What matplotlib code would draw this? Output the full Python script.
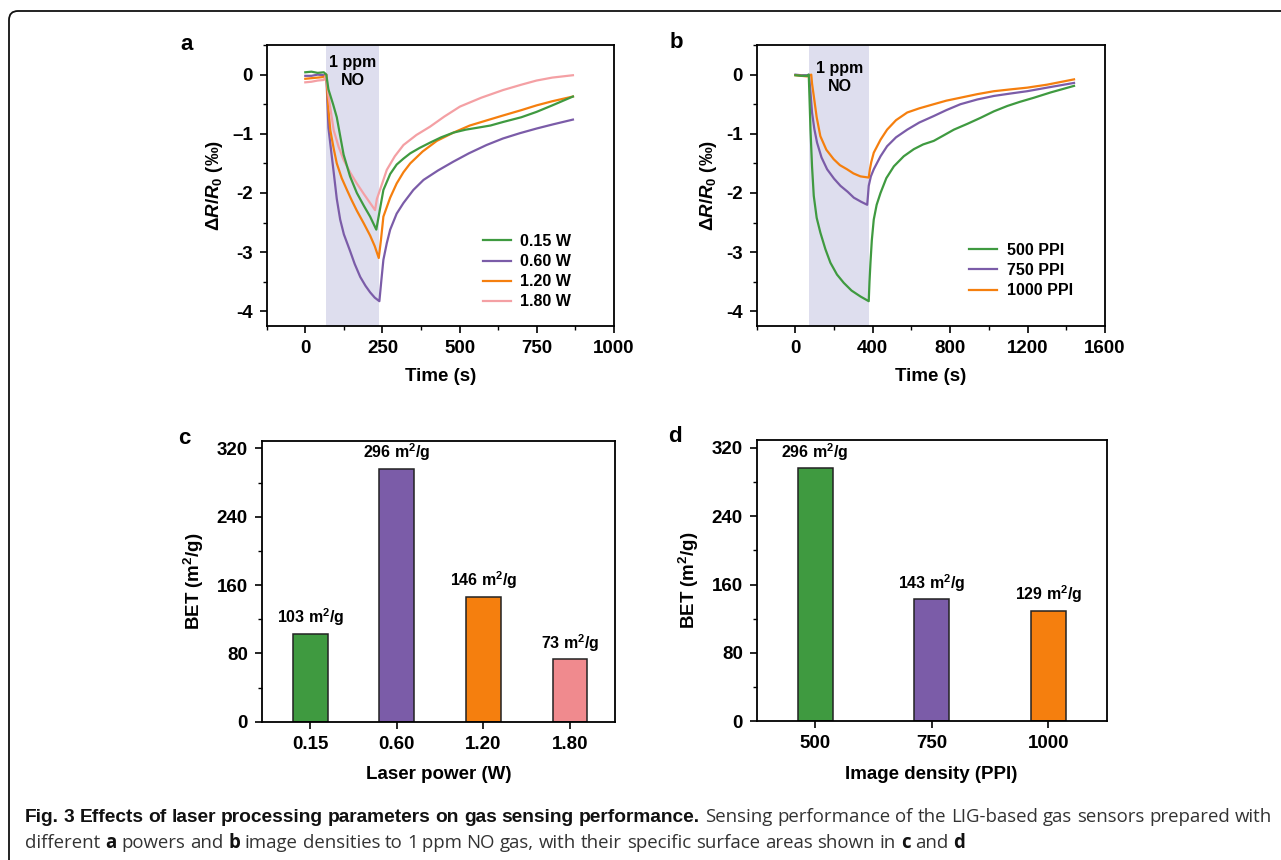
import numpy as np
import matplotlib
matplotlib.use('Agg')
import matplotlib.pyplot as plt
from matplotlib.patches import FancyBboxPatch
from matplotlib.transforms import IdentityTransform
from matplotlib.ticker import MultipleLocator, FixedLocator

plt.rcParams['font.family'] = ['Liberation Sans', 'DejaVu Sans']
plt.rcParams['font.weight'] = 'bold'
plt.rcParams['mathtext.fontset'] = 'custom'
plt.rcParams['mathtext.rm'] = 'Liberation Sans:bold'
plt.rcParams['mathtext.it'] = 'Liberation Sans:bold:italic'
plt.rcParams['mathtext.bf'] = 'Liberation Sans:bold'

GREEN = '#3f9a40'
PURPLE = '#7b5ca8'
ORANGE = '#f57f0e'
PINK = '#f4a0a4'
PINK_BAR = '#f08a8e'
SHADE = '#dedeee'

# panel a: response vs time for laser powers
t_a_015 = [0, 20, 40, 60, 68, 75, 90, 102, 124, 145, 167, 190, 210, 230, 253, 275, 296, 318, 340, 370, 404, 440, 480, 520, 555, 600, 641, 700, 749, 800, 867]
v_a_015 = [0.04, 0.05, 0.03, 0.04, 0.0, -0.25, -0.5, -0.72, -1.35, -1.72, -2.0, -2.22, -2.4, -2.62, -1.95, -1.68, -1.52, -1.42, -1.33, -1.24, -1.15, -1.06, -0.98, -0.93, -0.9, -0.86, -0.8, -0.72, -0.63, -0.52, -0.37]
t_a_060 = [0, 20, 40, 60, 68, 75, 84, 92, 102, 113, 125, 145, 160, 178, 195, 210, 225, 240, 246, 253, 264, 275, 296, 318, 350, 383, 430, 480, 530, 587, 640, 695, 750, 803, 867]
v_a_060 = [-0.02, -0.02, 0.0, -0.01, 0.0, -0.9, -1.3, -1.65, -2.1, -2.45, -2.7, -2.98, -3.2, -3.42, -3.57, -3.68, -3.77, -3.83, -3.5, -3.13, -2.85, -2.62, -2.35, -2.17, -1.95, -1.78, -1.62, -1.47, -1.33, -1.19, -1.08, -0.99, -0.91, -0.84, -0.76]
t_a_120 = [0, 20, 40, 60, 68, 75, 81, 92, 102, 118, 135, 150, 167, 190, 210, 225, 238, 245, 253, 275, 296, 318, 340, 380, 426, 480, 533, 590, 641, 700, 749, 800, 867]
v_a_120 = [-0.07, -0.06, -0.05, -0.04, 0.0, -0.6, -0.94, -1.25, -1.5, -1.75, -1.95, -2.12, -2.3, -2.52, -2.72, -2.9, -3.1, -2.8, -2.4, -2.08, -1.84, -1.65, -1.5, -1.3, -1.12, -0.98, -0.86, -0.77, -0.69, -0.6, -0.52, -0.45, -0.37]
t_a_180 = [0, 20, 40, 60, 68, 75, 92, 108, 124, 145, 167, 190, 210, 226, 232, 240, 264, 290, 318, 360, 404, 450, 501, 570, 641, 700, 749, 800, 867]
v_a_180 = [-0.13, -0.12, -0.1, -0.09, 0.0, -0.35, -0.94, -1.22, -1.44, -1.65, -1.84, -2.02, -2.17, -2.29, -2.1, -1.98, -1.61, -1.38, -1.19, -1.02, -0.88, -0.71, -0.54, -0.39, -0.26, -0.17, -0.1, -0.05, -0.01]

# panel b: response vs time for image densities
t_b_500 = [0, 30, 60, 69, 73, 78, 86, 95, 110, 129, 155, 181, 215, 250, 290, 336, 379, 383, 388, 395, 405, 420, 440, 470, 509, 560, 612, 660, 715, 770, 819, 890, 957, 1026, 1095, 1160, 1233, 1320, 1440]
v_b_500 = [-0.01, -0.02, -0.02, 0.0, -0.4, -0.93, -1.55, -2.05, -2.42, -2.67, -2.95, -3.18, -3.38, -3.52, -3.65, -3.75, -3.83, -3.5, -3.18, -2.8, -2.45, -2.2, -2.0, -1.75, -1.55, -1.38, -1.26, -1.18, -1.12, -1.02, -0.93, -0.83, -0.73, -0.62, -0.53, -0.46, -0.39, -0.3, -0.19]
t_b_750 = [0, 30, 60, 70, 78, 86, 98, 112, 135, 164, 200, 233, 270, 302, 340, 371, 375, 379, 390, 405, 440, 474, 520, 578, 640, 715, 780, 853, 940, 1026, 1110, 1198, 1300, 1440]
v_b_750 = [0.0, -0.01, -0.01, 0.0, -0.3, -0.64, -0.92, -1.15, -1.4, -1.6, -1.76, -1.88, -1.98, -2.08, -2.15, -2.2, -2.05, -1.88, -1.72, -1.6, -1.38, -1.21, -1.06, -0.93, -0.81, -0.7, -0.6, -0.5, -0.42, -0.36, -0.32, -0.28, -0.22, -0.14]
t_b_1000 = [0, 30, 60, 82, 86, 95, 110, 129, 160, 198, 230, 267, 300, 336, 379, 385, 392, 405, 440, 474, 520, 578, 640, 715, 780, 853, 940, 1026, 1110, 1198, 1300, 1440]
v_b_1000 = [-0.01, -0.02, -0.03, 0.0, -0.15, -0.36, -0.72, -1.04, -1.27, -1.43, -1.53, -1.6, -1.67, -1.72, -1.74, -1.6, -1.48, -1.32, -1.1, -0.93, -0.77, -0.64, -0.57, -0.5, -0.44, -0.39, -0.33, -0.28, -0.25, -0.22, -0.17, -0.08]

# panel c / d: BET surface areas
power_labels = ['0.15', '0.60', '1.20', '1.80']
bet_power = [103, 296, 146, 73]
density_labels = ['500', '750', '1000']
bet_density = [296, 143, 129]

TICK_FS = 13.5
LABEL_FS = 13.5
LEG_FS = 11.5
ANN_FS = 11.5

fig = plt.figure(figsize=(12.81, 8.6), dpi=100)

axa = fig.add_axes([0.2082, 0.6209, 0.2711, 0.3267])
axb = fig.add_axes([0.5907, 0.6209, 0.2719, 0.3267])
axc = fig.add_axes([0.2043, 0.1608, 0.2758, 0.3267])
axd = fig.add_axes([0.5907, 0.1614, 0.2732, 0.3267])


def style_axes(ax):
    for sp in ax.spines.values():
        sp.set_linewidth(1.3)
    ax.tick_params(which='major', direction='out', length=5, width=1.2, labelsize=TICK_FS, pad=5)
    ax.tick_params(which='minor', direction='out', length=3, width=1.0)
    ax.tick_params(top=False, right=False)
    for lab in ax.get_xticklabels() + ax.get_yticklabels():
        lab.set_fontweight('bold')


ylab_resp = r'$\Delta\mathit{R}/\mathit{R}_0$ (‰)'

# ---- a
axa.axvspan(67, 240, color=SHADE, lw=0, zorder=0)
axa.plot(t_a_015, v_a_015, color=GREEN, lw=1.6, label='0.15 W', zorder=3)
axa.plot(t_a_060, v_a_060, color=PURPLE, lw=1.6, label='0.60 W', zorder=2)
axa.plot(t_a_120, v_a_120, color=ORANGE, lw=1.6, label='1.20 W', zorder=2)
axa.plot(t_a_180, v_a_180, color=PINK, lw=1.6, label='1.80 W', zorder=2)
axa.set_xlim(-125, 1000)
axa.set_ylim(-4.25, 0.5)
axa.xaxis.set_major_locator(FixedLocator([0, 250, 500, 750, 1000]))
axa.xaxis.set_minor_locator(MultipleLocator(125))
axa.yaxis.set_major_locator(FixedLocator([-4, -3, -2, -1, 0]))
axa.set_yticklabels(['-4', '-3', '-2', '\u20131', '0'])
axa.yaxis.set_minor_locator(MultipleLocator(0.5))
axa.text(153, 0.05, '1 ppm\nNO', ha='center', va='center', fontsize=11.5, fontweight='bold', linespacing=1.3)
axa.set_xlabel('Time (s)', fontsize=LABEL_FS, fontweight='bold', labelpad=8)
axa.set_ylabel(ylab_resp, fontsize=LABEL_FS, fontweight='bold', labelpad=5)
axa.legend(loc='lower right', bbox_to_anchor=(0.905, 0.025), frameon=False,
           handlelength=1.75, handletextpad=0.6, labelspacing=0.32, borderaxespad=0.2,
           prop={'weight': 'bold', 'size': LEG_FS})

# ---- b
axb.axvspan(70, 382, color=SHADE, lw=0, zorder=0)
axb.plot(t_b_500, v_b_500, color=GREEN, lw=1.6, label='500 PPI', zorder=3)
axb.plot(t_b_750, v_b_750, color=PURPLE, lw=1.6, label='750 PPI', zorder=2)
axb.plot(t_b_1000, v_b_1000, color=ORANGE, lw=1.6, label='1000 PPI', zorder=2)
axb.set_xlim(-200, 1600)
axb.set_ylim(-4.25, 0.5)
axb.xaxis.set_major_locator(FixedLocator([0, 400, 800, 1200, 1600]))
axb.xaxis.set_minor_locator(MultipleLocator(200))
axb.yaxis.set_major_locator(FixedLocator([-4, -3, -2, -1, 0]))
axb.set_yticklabels(['-4', '-3', '-2', '-1', '0'])
axb.yaxis.set_minor_locator(MultipleLocator(0.5))
axb.text(228, -0.05, '1 ppm\nNO', ha='center', va='center', fontsize=11.5, fontweight='bold', linespacing=1.3)
axb.set_xlabel('Time (s)', fontsize=LABEL_FS, fontweight='bold', labelpad=8)
axb.set_ylabel(ylab_resp, fontsize=LABEL_FS, fontweight='bold', labelpad=5)
axb.legend(loc='lower right', bbox_to_anchor=(0.935, 0.065), frameon=False,
           handlelength=1.75, handletextpad=0.6, labelspacing=0.32, borderaxespad=0.2,
           prop={'weight': 'bold', 'size': LEG_FS})

# ---- c
xc = np.arange(len(power_labels))
axc.bar(xc, bet_power, width=0.4, color=[GREEN, PURPLE, ORANGE, PINK_BAR],
        edgecolor='#222222', linewidth=1.1, zorder=2)
for x, h in zip(xc, bet_power):
    axc.annotate(f'{h} m$^2$/g', (x, h), xytext=(0, 4), textcoords='offset points',
                 ha='center', va='bottom', fontsize=ANN_FS, fontweight='bold')
axc.set_xlim(-0.56, 3.52)
axc.set_ylim(0, 329)
axc.set_xticks(xc)
axc.set_xticklabels(power_labels)
axc.yaxis.set_major_locator(FixedLocator([0, 80, 160, 240, 320]))
axc.yaxis.set_minor_locator(MultipleLocator(40))
axc.set_xlabel('Laser power (W)', fontsize=LABEL_FS, fontweight='bold', labelpad=10)
axc.set_ylabel('BET (m$^2$/g)', fontsize=LABEL_FS, fontweight='bold', labelpad=8)

# ---- d
xd = np.arange(len(density_labels))
axd.bar(xd, bet_density, width=0.3, color=[GREEN, PURPLE, ORANGE],
        edgecolor='#222222', linewidth=1.1, zorder=2)
for x, h in zip(xd, bet_density):
    axd.annotate(f'{h} m$^2$/g', (x, h), xytext=(0, 4), textcoords='offset points',
                 ha='center', va='bottom', fontsize=ANN_FS, fontweight='bold')
axd.set_xlim(-0.5, 2.5)
axd.set_ylim(0, 329)
axd.set_xticks(xd)
axd.set_xticklabels(density_labels)
axd.yaxis.set_major_locator(FixedLocator([0, 80, 160, 240, 320]))
axd.yaxis.set_minor_locator(MultipleLocator(40))
axd.set_xlabel('Image density (PPI)', fontsize=LABEL_FS, fontweight='bold', labelpad=10)
axd.set_ylabel('BET (m$^2$/g)', fontsize=LABEL_FS, fontweight='bold', labelpad=8)

for ax in (axa, axb, axc, axd):
    style_axes(ax)

# panel letters (pixel positions converted to figure fraction)
W, H = 1281, 860
for letter, px, py in [('a', 180, 44), ('b', 670, 43), ('c', 178, 439), ('d', 668, 437)]:
    fig.text(px / W, 1 - py / H, letter, fontsize=16, fontweight='bold', ha='left', va='center')

# rounded border around the figure + caption
border = FancyBboxPatch((9, -30), 1320, 860 - 11 + 30, boxstyle='round,pad=0,rounding_size=9',
                        transform=IdentityTransform(), fill=False, edgecolor='#111111', linewidth=1.3)
fig.patches.append(border)

# caption: line 1 justified to the right margin, line 2 left aligned
fig.canvas.draw()
renderer = fig.canvas.get_renderer()

TITLE_STYLE = dict(family=['Liberation Sans', 'DejaVu Sans'], fontweight='bold', fontsize=13.8, color='#111111')
BODY_STYLE = dict(family=['Open Sans', 'DejaVu Sans'], fontweight='normal', fontsize=13.4, color='#333333')
BODYB_STYLE = dict(family=['Open Sans', 'DejaVu Sans'], fontweight='bold', fontsize=13.4, color='#111111')

title_words = 'Fig. 3 Effects of laser processing parameters on gas sensing performance.'.split()
body1_words = 'Sensing performance of the LIG-based gas sensors prepared with'.split()


def make_words(words, style, y):
    out = []
    for w in words:
        t = fig.text(0, 1 - y / H, w, ha='left', va='baseline', **style)
        out.append(t)
    return out


line1 = make_words(title_words, TITLE_STYLE, 822) + make_words(body1_words, BODY_STYLE, 822)
widths = [t.get_window_extent(renderer).width for t in line1]
x_left, x_right = 25, 1272
gap = (x_right - x_left - sum(widths)) / (len(line1) - 1)
x = x_left
for t, w in zip(line1, widths):
    t.set_x(x / W)
    x += w + gap

line2_parts = [('different', BODY_STYLE), ('a', BODYB_STYLE), ('powers', BODY_STYLE), ('and', BODY_STYLE),
               ('b', BODYB_STYLE), ('image', BODY_STYLE), ('densities', BODY_STYLE), ('to', BODY_STYLE),
               ('1\u2009ppm', BODY_STYLE), ('NO', BODY_STYLE), ('gas,', BODY_STYLE), ('with', BODY_STYLE),
               ('their', BODY_STYLE), ('specific', BODY_STYLE), ('surface', BODY_STYLE), ('areas', BODY_STYLE),
               ('shown', BODY_STYLE), ('in', BODY_STYLE), ('c', BODYB_STYLE), ('and', BODY_STYLE),
               ('d', BODYB_STYLE)]
space = fig.text(0, 0, 'a b', **BODY_STYLE)
sp_w = space.get_window_extent(renderer).width
ab = fig.text(0, 0, 'ab', **BODY_STYLE)
sp_w -= ab.get_window_extent(renderer).width
space.remove()
ab.remove()
x = x_left
for w, st in line2_parts:
    t = fig.text(x / W, 1 - 848 / H, w, ha='left', va='baseline', **st)
    x += t.get_window_extent(renderer).width + sp_w

fig.savefig('out.png', dpi=100)
